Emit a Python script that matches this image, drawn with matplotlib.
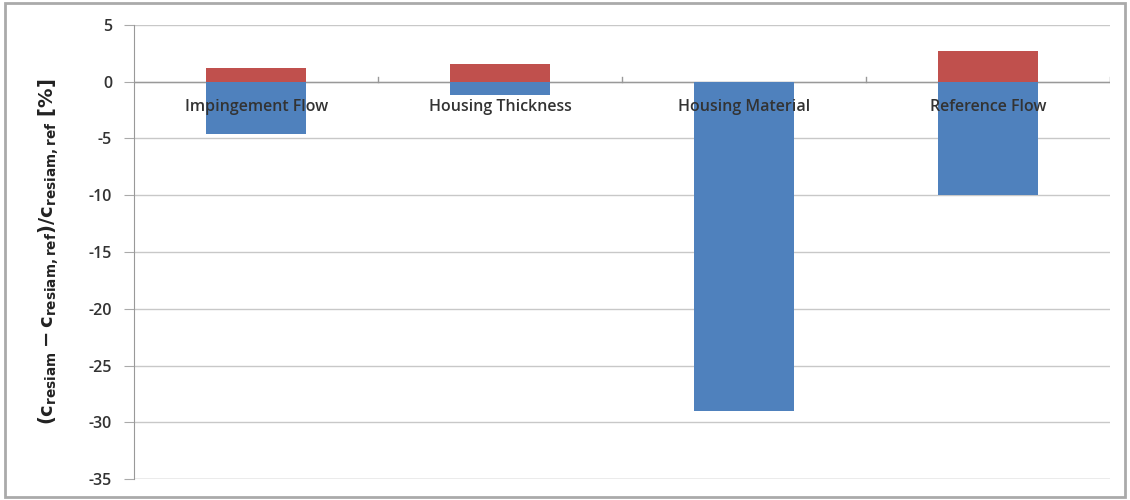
import matplotlib.pyplot as plt
from matplotlib.patches import Rectangle

plt.rcParams['axes.unicode_minus'] = False

# values
categories = ['Impingement Flow', 'Housing Thickness', 'Housing Material', 'Reference Flow']
positive = [1.25, 1.55, 0.0, 2.75]
negative = [-4.6, -1.15, -29.0, -10.0]

blue = '#4F81BD'
red = '#C0504D'

fig = plt.figure(figsize=(11.3, 5.0), dpi=100)
ax = fig.add_axes([0.119, 0.042, 0.863, 0.908])

x = list(range(len(categories)))
ax.bar(x, negative, width=0.41, color=blue, zorder=3)
ax.bar(x, positive, width=0.41, color=red, zorder=3)

ax.set_xlim(-0.5, len(categories) - 0.5)
ax.set_ylim(-35, 5)
ax.set_yticks(range(-35, 6, 5))
ax.tick_params(axis='y', length=7, color='#aaaaaa', labelsize=11.5,
               labelcolor='#333333', pad=9)
for lab in ax.get_yticklabels():
    lab.set_fontfamily('Open Sans')
    lab.set_fontweight('semibold')

# category axis crosses at zero, as in the spreadsheet chart
ax.set_xticks([])
ax.axhline(0, color='#999999', linewidth=1, zorder=2)
for b in [i + 0.5 for i in x]:
    ax.plot([b, b], [0, 0.4], color='#999999', linewidth=1, zorder=2)
for i, name in enumerate(categories):
    ax.text(i, -2.2, name, ha='center', va='center', fontsize=11.5,
            color='#333333', family='Open Sans', fontweight='semibold', zorder=4)

ax.grid(axis='y', color='#c8c8c8', linewidth=1, zorder=0)
for side in ['top', 'right', 'bottom']:
    ax.spines[side].set_visible(False)
ax.spines['left'].set_color('#999999')
ax.axhline(-35, color='#c8c8c8', linewidth=1, zorder=1)

ax.set_ylabel(r'$\mathbf{(c_{resiam} - c_{resiam,ref})/c_{resiam,ref}}$ [%]',
              fontsize=14, fontweight='bold', color='#222222', labelpad=20)

# chart-area border
fig.patches.append(Rectangle((0.004, 0.006), 0.992, 0.988, transform=fig.transFigure,
                             fill=False, edgecolor='#aaaaaa', linewidth=2))

fig.savefig('out.png', dpi=100)
